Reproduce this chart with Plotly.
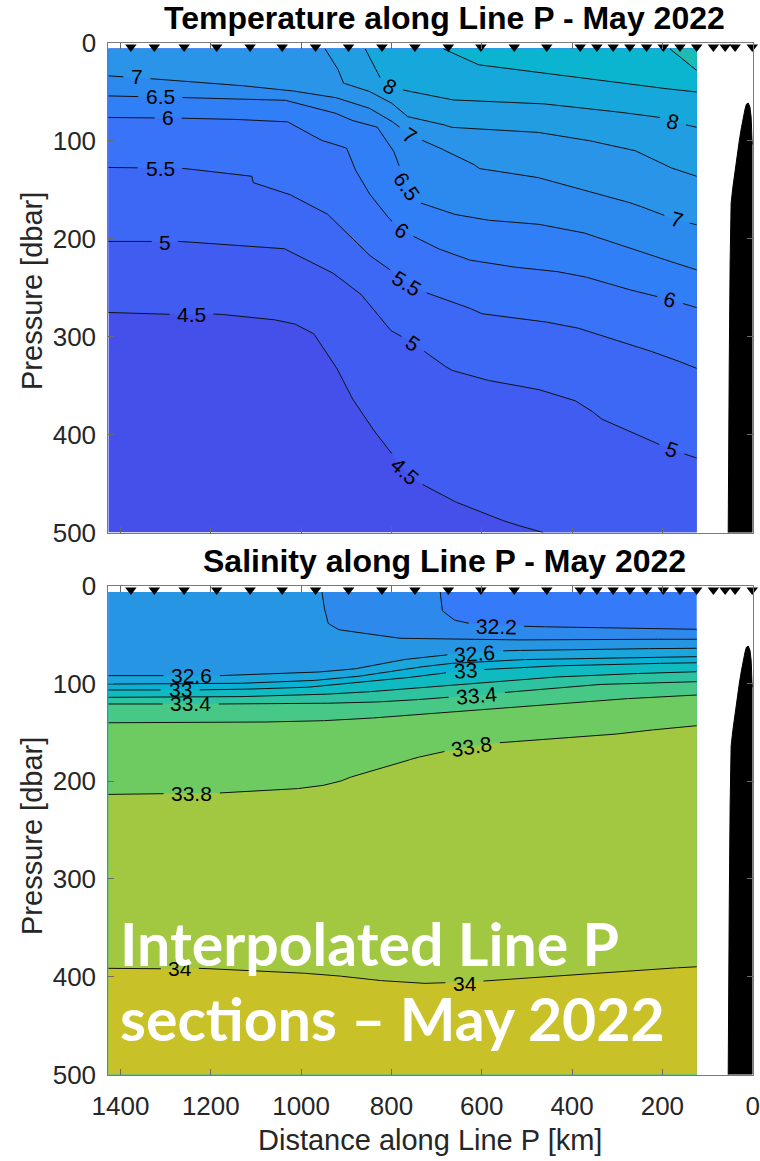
import math
import plotly.graph_objects as go

# ---------------------------------------------------------------- data
stations_km = [1377, 1325, 1259, 1187, 1113, 1042, 968, 895, 821, 748, 674, 602,
               528, 456, 382, 345, 309, 272, 235, 198, 161, 124, 87, 61, 39, 1]

# seafloor profile near the coast (km, dbar)
bathy_km = [0, 1.3, 3.5, 6, 10, 14, 17, 20.6, 25, 29.5, 34, 39, 44, 47.8, 50, 52, 53.8, 54.5]
bathy_dbar = [104, 99.5, 76, 66, 61.7, 63, 68, 75.7, 87, 99.5, 113, 130, 148, 164, 225, 330, 497, 520]

# extent of the interpolated section
section_km = [124, 1427]
section_dbar = [6.5, 500]

x_ticks = [0, 200, 400, 600, 800, 1000, 1200, 1400]
y_ticks = [0, 100, 200, 300, 400, 500]

# ---- temperature isotherms (distance km, pressure dbar)
temp_levels = [4.5, 5.0, 5.5, 6.0, 6.5, 7.0, 7.5, 8.0, 8.5, 9.0]
T45_km = [1427, 1242, 1187, 1076, 1017, 973, 925, 892, 848, 814, 770, 737, 670, 596, 537, 464]
T45_db = [275.5, 278, 277, 281.5, 286.5, 296.5, 328.5, 359.5, 390.5, 410.5, 437.5, 449.5, 466.5, 480.5, 490.5, 500]
T50_km = [1427, 1268, 1039, 1010, 929, 870, 833, 803, 752, 722, 670, 596, 486, 397, 360, 338, 264, 205, 179, 124]
T50_db = [203, 203, 210, 216.5, 235.5, 255.5, 276.5, 293.5, 306.5, 317, 334, 344, 352.5, 364.5, 374.5, 383.5, 398.5, 410.5, 415.5, 424]
T55_km = [1427, 1261, 1128, 1109, 1106, 1032, 943, 899, 855, 803, 766, 722, 633, 604, 486, 397, 301, 190, 124]
T55_db = [127.5, 128.5, 135, 136.5, 143, 153.5, 174.5, 194.5, 215, 232, 245.5, 255.5, 269.5, 276.5, 283, 290, 303.5, 320.5, 332.5]
T60_km = [1427, 1200, 1032, 1002, 958, 929, 899, 892, 884, 855, 810, 777, 707, 633, 545, 449, 375, 301, 183, 124]
T60_db = [76.5, 77.5, 80.5, 87.5, 99.5, 103, 108, 116.5, 126.5, 150.5, 177.5, 191.5, 208.5, 221.5, 228.5, 232.5, 238.5, 249, 262.5, 270.5]
T65_km = [1427, 1039, 929, 892, 833, 796, 766, 737, 692, 670, 596, 486, 382, 264, 124]
T65_db = [54.5, 58.5, 71, 79, 85.5, 109.5, 147, 163.5, 170.5, 174.5, 181, 184.5, 193, 211.5, 232]
T70_km = [1427, 1187, 1032, 929, 855, 803, 759, 692, 685, 619, 607, 486, 397, 264, 198, 168, 124]
T70_db = [34, 41.5, 48.5, 55.5, 65.5, 79, 94.5, 107.5, 109.5, 123.5, 128.5, 136.5, 147.5, 164.5, 176, 181, 186]
T75_km = [947, 921, 906, 855, 803, 766, 692, 670, 486, 390, 264, 190, 124]
T75_db = [6.5, 24.5, 41.5, 48.5, 60.5, 75.5, 82.5, 86.5, 91, 97.5, 109.5, 126.5, 136.5]
T80_km = [858, 825, 803, 774, 692, 670, 486, 338, 205, 176, 124]
T80_db = [6.5, 36, 45, 48.5, 56.5, 58.5, 61.5, 68.5, 76.5, 81, 86.5]
T85_km = [685, 611, 412, 264, 124]
T85_db = [6.5, 22.5, 34.5, 43.5, 50.5]
T90_km = [183, 124]
T90_db = [6.5, 28.5]
temp_lines_km = [T45_km, T50_km, T55_km, T60_km, T65_km, T70_km, T75_km, T80_km, T85_km, T90_km]
temp_lines_db = [T45_db, T50_db, T55_db, T60_db, T65_db, T70_db, T75_db, T80_db, T85_db, T90_db]

temp_label_text = ["7", "6.5", "6", "5.5", "5", "4.5", "8", "7", "6.5", "6", "5.5", "5", "4.5", "8", "7", "6", "5"]
temp_label_km = [1364, 1312, 1295, 1312, 1301, 1242, 803, 759, 766, 777, 766, 752, 770, 176, 168, 183, 179]
temp_label_db = [35, 55.6, 77, 129, 204, 278, 45, 94.5, 147, 191.5, 246, 307, 438, 81, 181, 262.5, 415.5]
temp_label_angle = [0, 0, 0, 0, 0, 0, 28, 33, 55, 33, 32, 34, 42, 15, 16, 15, 20]

# ---- salinity isohalines
sal_levels = [32.2, 32.4, 32.6, 32.8, 33.0, 33.2, 33.4, 33.6, 33.8, 34.0]
S322_km = [692, 690, 689, 663, 633, 504, 338, 124]
S322_db = [6.5, 18, 24.9, 34.9, 38.3, 41.6, 43.3, 44.6]
S324_km = [954, 951, 945, 940, 926, 914, 855, 781, 560, 338, 124]
S324_db = [6.5, 18, 30, 38.5, 43, 45.3, 48.7, 53.8, 55.6, 54.8, 54.8]
S326_km = [1427, 1180, 1002, 891, 781, 685, 548, 338, 124]
S326_db = [92, 92, 89.6, 86, 76, 71, 66.5, 64.8, 64]
S328_km = [1427, 1180, 1002, 891, 781, 685, 548, 338, 124]
S328_db = [100.6, 100.5, 98, 94, 86, 80, 76, 74, 72.6]
S330_km = [1427, 1180, 1002, 891, 781, 677, 637, 500, 338, 124]
S330_db = [106.7, 106.5, 104.5, 100, 95, 89, 87, 83, 80.5, 78.8]
S332_km = [1427, 1180, 1002, 891, 781, 620, 500, 338, 124]
S332_db = [114.2, 114, 112, 110, 106, 100, 95, 91, 88]
S334_km = [1427, 1180, 1002, 891, 781, 700, 611, 500, 338, 124]
S334_db = [121, 121, 120.5, 120, 118, 115, 112, 107, 101, 98.2]
S336_km = [1427, 1180, 1002, 891, 781, 560, 338, 124]
S336_db = [140.2, 140, 139, 137, 133.3, 125.4, 117, 111.8]
S338_km = [1427, 1180, 1039, 965, 914, 899, 855, 781, 751, 685, 622, 560, 412, 301, 264, 124]
S338_db = [213.5, 212, 209, 205.6, 200.5, 197, 191, 181.7, 176.6, 169.8, 164.7, 160.6, 156, 151.7, 149.4, 143.2]
S340_km = [1427, 1268, 1224, 1039, 929, 855, 737, 685, 637, 596, 412, 264, 124]
S340_db = [391.4, 392, 391.4, 395, 398.4, 402.8, 407, 406, 407, 404.4, 398.3, 393.2, 389.8]
sal_lines_km = [S322_km, S324_km, S326_km, S328_km, S330_km, S332_km, S334_km, S336_km, S338_km, S340_km]
sal_lines_db = [S322_db, S324_db, S326_db, S328_db, S330_db, S332_db, S334_db, S336_db, S338_db, S340_db]

sal_label_text = ["32.2", "32.6", "33", "33.4", "33.8", "32.6", "33", "33.4", "33.8", "34", "34"]
sal_label_km = [567, 1242, 1268, 1245, 1242, 615, 637, 611, 622, 1268, 637]
sal_label_db = [41.5, 92, 106.6, 121, 213, 69, 87, 112, 164.7, 392, 407]
sal_label_angle = [1, 0, 0, 0, 0, -4, -4, -5, -9, 0, 0]

# ---------------------------------------------------------------- styles
temp_colors = ["#4550EA", "#415CF0", "#3D68F5", "#3873F8", "#317FF6", "#2C8AEF",
               "#2994E8", "#219DE2", "#16A8DA", "#0BB4CF", "#1CBCB5"]
sal_colors = ["#347AF9", "#2D8AEC", "#2696E4", "#1AA5DD", "#0BB0D5", "#0FBBC0",
              "#2EC3A0", "#48C886", "#6ECB62", "#A2C842", "#C9C128"]

W, H = 760, 1161
AX_L, AX_R = 108.3, 752.7
TOP_T, TOP_B = 42.5, 532.5
BOT_T, BOT_B = 585.7, 1074.5
X_MAX = max(section_km)
PX_PER_KM = (AX_R - AX_L) / X_MAX
PX_PER_DB = (TOP_B - TOP_T) / 500.0
LABEL_SIZE = 21
FONT = "Liberation Sans, Arial, Helvetica, sans-serif"

X_HI, X_LO = max(section_km), min(section_km)
P_TOP, P_BOT = section_dbar
CORNERS = [(0, (X_HI, P_TOP)), (1, (X_LO, P_TOP)), (2, (X_LO, P_BOT)), (3, (X_HI, P_BOT))]


def perim(x, y):
    e = 1e-6
    if abs(y - P_TOP) < e:
        return (X_HI - x) / (X_HI - X_LO)
    if abs(x - X_LO) < e:
        return 1 + (y - P_TOP) / (P_BOT - P_TOP)
    if abs(y - P_BOT) < e:
        return 2 + (x - X_LO) / (X_HI - X_LO)
    return 3 + (P_BOT - y) / (P_BOT - P_TOP)


def inside(px, py, poly):
    c = False
    n = len(poly)
    for i in range(n):
        x1, y1 = poly[i]
        x2, y2 = poly[(i + 1) % n]
        if (y1 > py) != (y2 > py):
            xi = x1 + (py - y1) * (x2 - x1) / (y2 - y1)
            if px < xi:
                c = not c
    return c


def region(xs, ys, ref):
    pts = list(zip(xs, ys))
    tS = perim(*pts[0])
    tE = perim(*pts[-1])
    cand = [(t + 4 * k, p) for k in (-1, 0, 1) for t, p in CORNERS]
    end = tS if tS > tE else tS + 4
    fwd = [p for t, p in sorted(cand, key=lambda c: c[0]) if tE < t < end]
    end = tS if tS < tE else tS - 4
    bwd = [p for t, p in sorted(cand, key=lambda c: -c[0]) if end < t < tE]
    for walk in (fwd, bwd):
        poly = pts + walk
        if inside(ref[0], ref[1], poly):
            return poly
    return pts + fwd


def text_w(s):
    return sum(0.556 if ch.isdigit() else 0.278 for ch in s) * LABEL_SIZE


def gapped(xs, ys, labs):
    ox, oy = [], []

    def far(x, y):
        return all(math.hypot((x - lx) * PX_PER_KM, (y - ly) * PX_PER_DB) > r for lx, ly, r in labs)

    for i in range(len(xs) - 1):
        x0, y0, x1, y1 = xs[i], ys[i], xs[i + 1], ys[i + 1]
        n = max(1, int(math.hypot((x1 - x0) * PX_PER_KM, (y1 - y0) * PX_PER_DB)))
        last = i == len(xs) - 2
        for j in range(n + (1 if last else 0)):
            t = j / n
            x = x0 + t * (x1 - x0)
            y = y0 + t * (y1 - y0)
            if far(x, y):
                ox.append(x)
                oy.append(y)
            elif ox and ox[-1] is not None:
                ox.append(None)
                oy.append(None)
    return ox, oy


fig = go.Figure()


def add_panel(xr, yr, levels, lines_km, lines_db, colors, ref, lab_text, lab_km, lab_db, lab_ang):
    base = [(X_HI, P_TOP), (X_LO, P_TOP), (X_LO, P_BOT), (X_HI, P_BOT)]
    fig.add_trace(go.Scatter(x=[p[0] for p in base], y=[p[1] for p in base], fill="toself",
                             fillcolor=colors[0], mode="lines", line=dict(width=0),
                             hoverinfo="skip", showlegend=False, xaxis=xr, yaxis=yr))
    for k, lev in enumerate(levels):
        poly = region(lines_km[k], lines_db[k], ref)
        fig.add_trace(go.Scatter(x=[p[0] for p in poly], y=[p[1] for p in poly], fill="toself",
                                 fillcolor=colors[k + 1], mode="lines", line=dict(width=0),
                                 hoverinfo="skip", showlegend=False, xaxis=xr, yaxis=yr))
    for k, lev in enumerate(levels):
        labs = [(lab_km[i], lab_db[i], text_w(lab_text[i]) / 2 + 7)
                for i in range(len(lab_text)) if abs(float(lab_text[i]) - lev) < 1e-6]
        gx, gy = gapped(lines_km[k], lines_db[k], labs)
        fig.add_trace(go.Scatter(x=gx, y=gy, mode="lines", line=dict(color="#111111", width=1),
                                 hoverinfo="skip", showlegend=False, xaxis=xr, yaxis=yr))
    for i, t in enumerate(lab_text):
        fig.add_annotation(x=lab_km[i], y=lab_db[i], xref=xr, yref=yr, text=t, showarrow=False,
                           xanchor="center", yanchor="middle", textangle=lab_ang[i],
                           font=dict(family=FONT, size=LABEL_SIZE, color="#000000"))
    fig.add_trace(go.Scatter(x=bathy_km + [bathy_km[0]], y=bathy_dbar + [bathy_dbar[-1]],
                             fill="toself", fillcolor="#000000", mode="lines",
                             line=dict(color="#000000", width=1), hoverinfo="skip",
                             showlegend=False, xaxis=xr, yaxis=yr))
    fig.add_trace(go.Scatter(x=stations_km, y=[4.5] * len(stations_km), mode="markers",
                             marker=dict(symbol="triangle-down", size=10, color="#000000"),
                             cliponaxis=False, hoverinfo="skip", showlegend=False,
                             xaxis=xr, yaxis=yr))


add_panel("x", "y", temp_levels, temp_lines_km, temp_lines_db, temp_colors,
          (X_LO + 2, P_TOP + 2), temp_label_text, temp_label_km, temp_label_db, temp_label_angle)
add_panel("x2", "y2", sal_levels, sal_lines_km, sal_lines_db, sal_colors,
          (X_HI - 2, P_BOT - 2), sal_label_text, sal_label_km, sal_label_db, sal_label_angle)

ax_common = dict(showgrid=False, zeroline=False, showline=True, linecolor="#7a7a7a", linewidth=1,
                 mirror="ticks", ticks="inside", ticklen=6, tickcolor="#6a6a6a", tickwidth=1,
                 automargin=False,
                 tickfont=dict(family=FONT, size=26, color="#262626"))
x_dom = [AX_L / W, AX_R / W]
fig.update_layout(
    width=W, height=H, autosize=False,
    margin=dict(l=0, r=0, t=0, b=0, autoexpand=False),
    paper_bgcolor="white", plot_bgcolor="white",
    xaxis=dict(domain=x_dom, range=[X_MAX, 0], tickvals=x_ticks, anchor="y",
               showticklabels=False, **ax_common),
    yaxis=dict(domain=[(H - TOP_B) / H, (H - TOP_T) / H], range=[500, 0], tickvals=y_ticks,
               anchor="x", ticklabelstandoff=6, **ax_common),
    xaxis2=dict(domain=x_dom, range=[X_MAX, 0], tickvals=x_ticks, anchor="y2",
                ticklabelstandoff=8, **ax_common),
    yaxis2=dict(domain=[(H - BOT_B) / H, (H - BOT_T) / H], range=[500, 0], tickvals=y_ticks,
                anchor="x2", ticklabelstandoff=6, **ax_common),
)


def paper_text(x_px, y_px, text, size, color, angle=0, family=FONT, xanchor="center"):
    fig.add_annotation(x=x_px / W, y=(H - y_px) / H, xref="paper", yref="paper", showarrow=False,
                       xanchor=xanchor, yanchor="middle", text=text, textangle=angle,
                       font=dict(family=family, size=size, color=color))


paper_text(444, 18, "<b>Temperature along Line P - May 2022</b>", 32, "#000000")
paper_text(444, 561, "<b>Salinity along Line P - May 2022</b>", 32, "#000000")
for yc in (291, 836):
    paper_text(32, yc, "Pressure [dbar]", 29, "#262626", angle=-90)
paper_text(430, 1140, "Distance along Line P [km]", 29, "#262626")
paper_text(118, 944, "<b>Interpolated Line P</b>", 59, "#FFFFFF",
           family="Lato, Open Sans, sans-serif", xanchor="left")
paper_text(118, 1018, "<b>sections – May 2022</b>", 59, "#FFFFFF",
           family="Lato, Open Sans, sans-serif", xanchor="left")

fig.write_html("out.html", config={"displayModeBar": False},
               post_script="document.body.style.margin='0';")
